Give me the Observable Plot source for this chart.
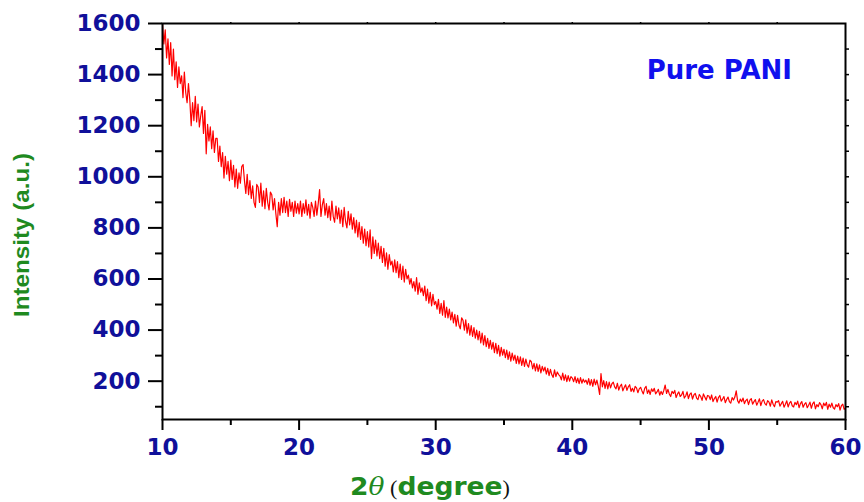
<!DOCTYPE html>
<html><head><meta charset="utf-8">
<script src="https://cdn.jsdelivr.net/npm/d3@7"></script>
<script src="https://cdn.jsdelivr.net/npm/@observablehq/plot@0.6"></script>
<style>body{margin:0;background:#fff} svg{display:block}</style>
</head><body><div id="chart"></div>
<script>
// 2θ sampling grid of the scan (degrees)
const xStart = 10;
const xStep = 0.1;
// Intensity (a.u.), one row per degree (10.0 … 59.9), then 60.0
const intensity = [
  1598,1520,1575,1465,1540,1440,1525,1395,1500,1380,
  1450,1350,1430,1365,1395,1310,1410,1330,1290,1365,
  1300,1200,1290,1220,1315,1215,1285,1195,1240,1275,
  1170,1260,1090,1205,1140,1195,1110,1180,1095,1150,
  1150,1060,1120,1040,1095,995,1080,1010,1060,985,
  1065,990,1045,960,1030,955,1015,975,1040,1048,
  985,935,1010,930,985,915,965,900,880,970,
  960,900,975,885,945,875,955,900,870,940,
  930,870,915,855,805,900,850,915,860,920,
  860,905,845,912,865,900,845,905,858,895,
  855,905,845,895,858,910,850,892,838,900,
  880,845,905,850,895,950,845,890,915,850,
  895,840,885,830,905,845,822,885,835,878,
  818,870,805,880,825,800,865,812,855,795,
  840,780,830,765,822,755,805,740,795,730,
  785,725,792,680,765,700,752,690,740,680,
  728,665,720,650,702,638,695,655,670,628,
  675,625,668,605,658,598,650,588,638,600,
  615,580,602,565,590,552,605,540,585,548,
  565,535,572,515,560,505,548,495,540,500,
  512,482,520,465,505,458,515,450,490,448,
  482,440,470,428,462,415,458,420,405,448,
  438,400,440,388,425,380,418,375,410,368,
  400,362,395,350,388,342,378,335,368,328,
  360,325,352,312,348,308,340,298,332,302,
  325,292,322,285,315,278,310,282,302,270,
  298,268,295,262,290,258,286,264,255,282,
  276,248,270,240,268,238,264,232,258,240,
  255,228,250,222,246,225,215,244,218,236,
  226,220,205,232,203,225,198,222,200,218,
  212,198,218,194,212,190,214,192,208,196,
  204,188,210,184,206,180,208,186,204,180,
  148,230,178,202,172,198,170,196,174,190,
  196,178,170,192,165,180,188,162,175,186,
  164,178,186,160,172,158,180,174,155,170,
  176,162,150,172,180,152,166,148,170,160,
  172,150,158,168,145,160,148,164,185,152,
  168,150,140,160,152,164,136,150,158,140,
  146,160,134,142,158,132,148,154,130,146,
  152,134,128,148,140,125,150,138,126,144,
  142,128,146,120,132,140,118,136,144,122,
  130,140,116,128,138,120,114,136,126,138,
  162,124,114,130,120,134,112,124,130,108,
  126,132,110,120,128,106,118,131,104,122,
  128,112,106,124,118,102,127,110,100,120,
  118,124,102,112,121,98,110,123,99,114,
  121,104,99,117,108,122,96,112,120,98,
  110,116,96,106,118,94,112,119,92,108,
  100,116,108,92,114,104,117,90,110,98,
  114,96,91,108,100,112,87,104,110,90,
  95
];
const xTicksMajor = [10, 20, 30, 40, 50, 60];
const xTicksMinor = [15, 25, 35, 45, 55];
const xTicksTop = [15, 20, 25, 30, 35, 40, 45, 50, 55];
const yTicksMajor = [200, 400, 600, 800, 1000, 1200, 1400, 1600];
const yTicksMinor = [100, 300, 500, 700, 900, 1100, 1300, 1500];
const yTicksRight = [100, 200, 300, 400, 500, 600, 700, 800, 900, 1000, 1100, 1200, 1300, 1400, 1500];
const sampleLabel = "Pure PANI";
const yTitle = "Intensity (a.u.)";

const data = intensity.map((v, i) => ({x: +(xStart + i * xStep).toFixed(2), y: v}));

const tickText = {fontSize: 23, fontWeight: "bold", fill: "#10109a"};
const chart = Plot.plot({
  width: 864, height: 502,
  marginLeft: 162, marginRight: 19, marginTop: 23, marginBottom: 83,
  x: {domain: [10, 60], label: null},
  y: {domain: [50, 1600], label: null},
  style: {fontFamily: "DejaVu Sans", background: "#fff", overflow: "visible"},
  marks: [
    Plot.line(data, {x: "x", y: "y", stroke: "#ff0000", strokeWidth: 1.2, clip: true}),
    Plot.frame({stroke: "#000", strokeWidth: 2}),
    Plot.axisX({ticks: xTicksMajor, tickSize: 11, tickPadding: 8, tickFormat: d => String(d), stroke: "#000", strokeWidth: 2, ...tickText}),
    Plot.axisX({ticks: xTicksMinor, tickSize: 6, tickFormat: () => "", stroke: "#000", strokeWidth: 2}),
    Plot.axisX({anchor: "top", ticks: xTicksTop, tickSize: 2, tickFormat: () => "", stroke: "#000", strokeWidth: 1.5}),
    Plot.axisY({ticks: yTicksMajor, tickSize: 14, tickPadding: 8, tickFormat: d => String(d), stroke: "#000", strokeWidth: 2, ...tickText}),
    Plot.axisY({ticks: yTicksMinor, tickSize: 7, tickFormat: () => "", stroke: "#000", strokeWidth: 2}),
    Plot.axisY({anchor: "right", ticks: yTicksRight, tickSize: 3, tickFormat: () => "", stroke: "#000", strokeWidth: 1.5})
  ]
});
document.getElementById("chart").appendChild(chart);

const svg = d3.select(chart);
// y title
svg.append("text")
  .attr("transform", "translate(29,235) rotate(-90)")
  .attr("text-anchor", "middle")
  .attr("font-family", "Liberation Sans, Arial, sans-serif")
  .attr("font-weight", "bold")
  .attr("font-size", 22)
  .attr("fill", "#1f8a1f")
  .attr("textLength", 164)
  .attr("lengthAdjust", "spacingAndGlyphs")
  .text(yTitle);
// x title: 2θ (degree)
const xt = svg.append("text")
  .attr("x", 430).attr("y", 495)
  .attr("font-size", 24)
  .attr("fill", "#1f8a1f")
  .attr("textLength", 160)
  .attr("lengthAdjust", "spacingAndGlyphs");
xt.append("tspan").attr("font-family", "DejaVu Sans").attr("font-weight", "bold").text("2");
xt.append("tspan").attr("font-family", "DejaVu Serif").attr("font-style", "italic").text("\u03b8");
xt.append("tspan").attr("font-family", "Liberation Serif").attr("font-size", 20).attr("fill", "#111").text(" (");
xt.append("tspan").attr("font-family", "DejaVu Sans").attr("font-weight", "bold").text("degree");
xt.append("tspan").attr("font-family", "Liberation Serif").attr("font-size", 20).attr("fill", "#111").text(")");
// sample label
svg.append("text")
  .attr("x", 792).attr("y", 79)
  .attr("text-anchor", "end")
  .attr("font-family", "DejaVu Sans")
  .attr("font-weight", "bold")
  .attr("font-size", 26)
  .attr("fill", "#1010ee")
  .text(sampleLabel);
</script>
</body></html>
